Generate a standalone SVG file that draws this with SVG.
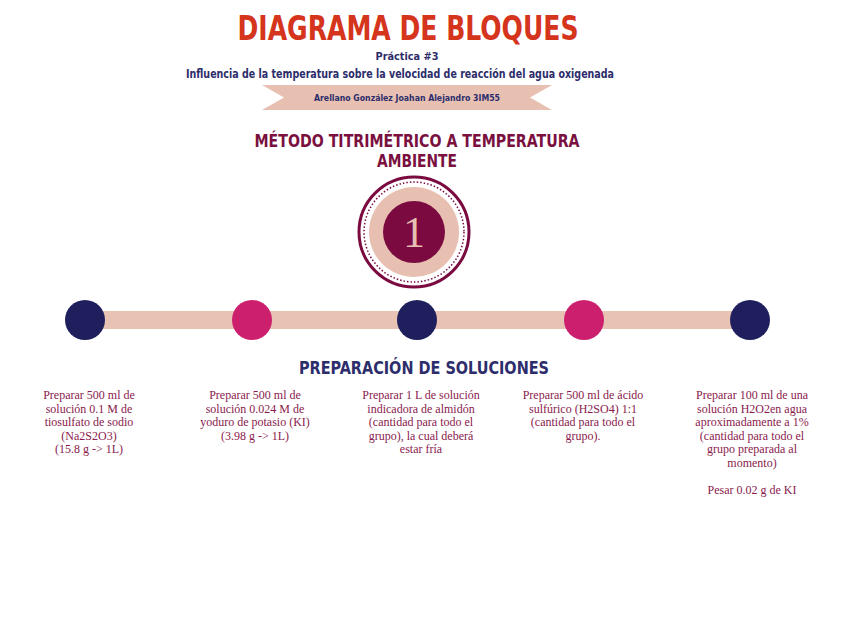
<svg xmlns="http://www.w3.org/2000/svg" width="848" height="636" viewBox="0 0 848 636">
<style>
.h{font-family:"DejaVu Sans Condensed","Liberation Sans",sans-serif;font-weight:bold;text-anchor:middle}
.b{font-family:"Liberation Serif",serif;font-size:12px;fill:#8a1a4d;text-anchor:middle}
</style>
<rect width="848" height="636" fill="#fff"/>
<g id="header">
<text class="h" x="408" y="40" font-size="34" fill="#d5341d" textLength="341" lengthAdjust="spacingAndGlyphs">DIAGRAMA DE BLOQUES</text>
<text class="h" x="407" y="60" font-size="11" fill="#2d2d6b" textLength="63" lengthAdjust="spacingAndGlyphs">Práctica #3</text>
<text class="h" x="400" y="78" font-size="12" fill="#2d2d6b" textLength="428" lengthAdjust="spacingAndGlyphs">Influencia de la temperatura sobre la velocidad de reacción del agua oxigenada</text>
<polygon points="262,85 552,85 530,97.5 552,110 262,110 284,97.5" fill="#e8c0b2"/>
<text class="h" x="407" y="101" font-size="9" fill="#2d2d6b" textLength="186" lengthAdjust="spacingAndGlyphs">Arellano González Joahan Alejandro 3IM55</text>
<text class="h" x="417" y="147" font-size="17" fill="#7a1040" textLength="325" lengthAdjust="spacingAndGlyphs">MÉTODO TITRIMÉTRICO A TEMPERATURA</text>
<text class="h" x="417" y="167" font-size="17" fill="#7a1040" textLength="80" lengthAdjust="spacingAndGlyphs">AMBIENTE</text>
</g>
<g id="badge">
<circle cx="414" cy="232" r="55" fill="#fff" stroke="#7a0a40" stroke-width="3"/>
<circle cx="414" cy="232" r="50" fill="none" stroke="#7a0a40" stroke-width="1.5" stroke-dasharray="1.5 2"/>
<circle cx="414" cy="232" r="45" fill="#e8c0b2"/>
<circle cx="414" cy="232" r="31" fill="#7a0a40"/>
<text x="414" y="247" font-family="Liberation Serif,serif" font-size="44" fill="#e8c0b2" text-anchor="middle">1</text>
</g>
<g id="connectors">
<rect x="85" y="311" width="665" height="18" fill="#e8c3b4"/>
</g>
<g id="n1"><circle cx="85" cy="320" r="20" fill="#1f1f5e"/></g>
<g id="n2"><circle cx="252" cy="320" r="20" fill="#cc1f6e"/></g>
<g id="n3"><circle cx="417" cy="320" r="20" fill="#1f1f5e"/></g>
<g id="n4"><circle cx="584" cy="320" r="20" fill="#cc1f6e"/></g>
<g id="n5"><circle cx="750" cy="320" r="20" fill="#1f1f5e"/></g>
<text class="h" x="424" y="374" font-size="18" fill="#2d2d6b" textLength="250" lengthAdjust="spacingAndGlyphs">PREPARACIÓN DE SOLUCIONES</text>
<g id="t1"><text class="b" x="89" y="399"><tspan x="89">Preparar 500 ml de</tspan><tspan x="89" dy="13.5">solución 0.1 M de</tspan><tspan x="89" dy="13.5">tiosulfato de sodio</tspan><tspan x="89" dy="13.5">(Na2S2O3)</tspan><tspan x="89" dy="13.5">(15.8 g -&gt; 1L)</tspan></text></g>
<g id="t2"><text class="b" x="255" y="399"><tspan x="255">Preparar 500 ml de</tspan><tspan x="255" dy="13.5">solución 0.024 M de</tspan><tspan x="255" dy="13.5">yoduro de potasio (KI)</tspan><tspan x="255" dy="13.5">(3.98 g -&gt; 1L)</tspan></text></g>
<g id="t3"><text class="b" x="421" y="399"><tspan x="421">Preparar 1 L de solución</tspan><tspan x="421" dy="13.5">indicadora de almidón</tspan><tspan x="421" dy="13.5">(cantidad para todo el</tspan><tspan x="421" dy="13.5">grupo), la cual deberá</tspan><tspan x="421" dy="13.5">estar fría</tspan></text></g>
<g id="t4"><text class="b" x="583" y="399"><tspan x="583">Preparar 500 ml de ácido</tspan><tspan x="583" dy="13.5">sulfúrico (H2SO4) 1:1</tspan><tspan x="583" dy="13.5">(cantidad para todo el</tspan><tspan x="583" dy="13.5">grupo).</tspan></text></g>
<g id="t5"><text class="b" x="752" y="399"><tspan x="752">Preparar 100 ml de una</tspan><tspan x="752" dy="13.5">solución H2O2en agua</tspan><tspan x="752" dy="13.5">aproximadamente a 1%</tspan><tspan x="752" dy="13.5">(cantidad para todo el</tspan><tspan x="752" dy="13.5">grupo preparada al</tspan><tspan x="752" dy="13.5">momento)</tspan><tspan x="752" dy="27">Pesar 0.02 g de KI</tspan></text></g>
</svg>
